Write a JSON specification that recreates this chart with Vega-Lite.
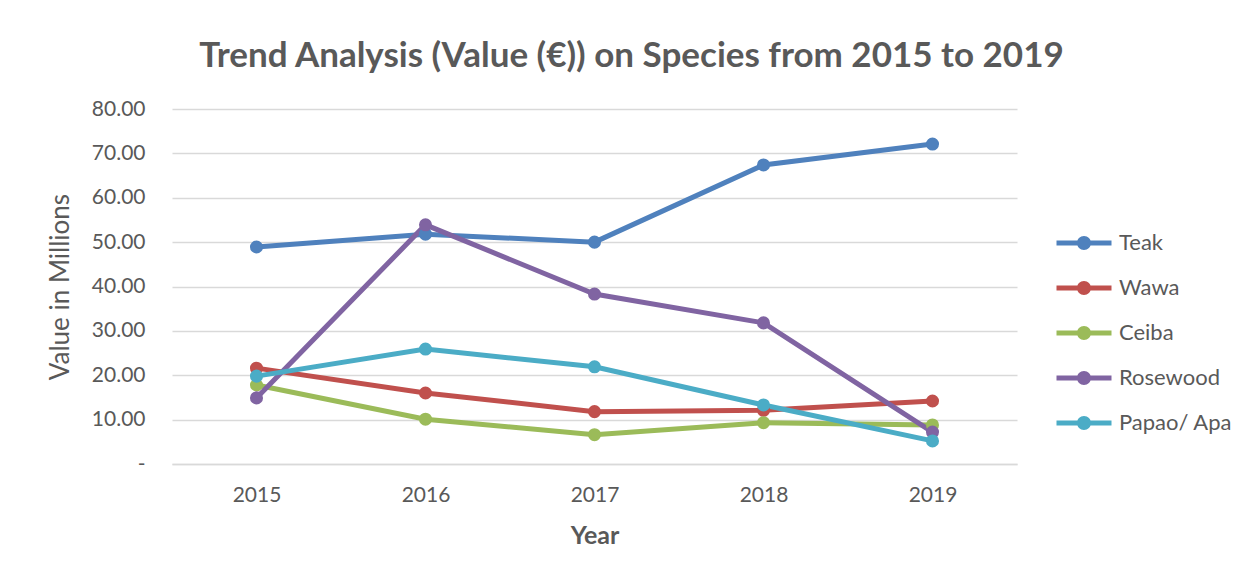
{
  "$schema": "https://vega.github.io/schema/vega-lite/v6.json",
  "width": 845,
  "height": 355,
  "autosize": "none",
  "padding": {"left": 172, "top": 109, "right": 238, "bottom": 116},
  "background": "white",
  "title": {
    "text": "Trend Analysis (Value (€)) on Species from 2015 to 2019",
    "font": "Lato",
    "fontSize": 35,
    "fontWeight": "bold",
    "color": "#595959",
    "anchor": "middle",
    "dx": 37,
    "offset": 24
  },
  "data": {
    "values": [
      {"Year": "2015", "Species": "Teak", "Value": 48.9},
      {"Year": "2016", "Species": "Teak", "Value": 51.8},
      {"Year": "2017", "Species": "Teak", "Value": 50.0},
      {"Year": "2018", "Species": "Teak", "Value": 67.4},
      {"Year": "2019", "Species": "Teak", "Value": 72.1},
      {"Year": "2015", "Species": "Wawa", "Value": 21.6},
      {"Year": "2016", "Species": "Wawa", "Value": 16.0},
      {"Year": "2017", "Species": "Wawa", "Value": 11.8},
      {"Year": "2018", "Species": "Wawa", "Value": 12.1},
      {"Year": "2019", "Species": "Wawa", "Value": 14.2},
      {"Year": "2015", "Species": "Ceiba", "Value": 17.8},
      {"Year": "2016", "Species": "Ceiba", "Value": 10.1},
      {"Year": "2017", "Species": "Ceiba", "Value": 6.6},
      {"Year": "2018", "Species": "Ceiba", "Value": 9.3},
      {"Year": "2019", "Species": "Ceiba", "Value": 8.8},
      {"Year": "2015", "Species": "Rosewood", "Value": 14.9},
      {"Year": "2016", "Species": "Rosewood", "Value": 53.9},
      {"Year": "2017", "Species": "Rosewood", "Value": 38.3},
      {"Year": "2018", "Species": "Rosewood", "Value": 31.8},
      {"Year": "2019", "Species": "Rosewood", "Value": 7.2},
      {"Year": "2015", "Species": "Papao/ Apa", "Value": 19.8},
      {"Year": "2016", "Species": "Papao/ Apa", "Value": 25.9},
      {"Year": "2017", "Species": "Papao/ Apa", "Value": 21.9},
      {"Year": "2018", "Species": "Papao/ Apa", "Value": 13.3},
      {"Year": "2019", "Species": "Papao/ Apa", "Value": 5.2}
    ]
  },
  "encoding": {
    "x": {
      "field": "Year",
      "type": "ordinal",
      "scale": {"type": "point", "padding": 0.5},
      "axis": {
        "title": "Year",
        "labelAngle": 0,
        "labelFont": "Lato",
        "labelFontSize": 21,
        "labelColor": "#595959",
        "labelPadding": 20,
        "ticks": false,
        "domainColor": "#d9d9d9",
        "domainWidth": 1.5,
        "titleFont": "Lato",
        "titleFontSize": 25,
        "titleFontWeight": "bold",
        "titleColor": "#595959",
        "titlePadding": 18
      }
    },
    "y": {
      "field": "Value",
      "type": "quantitative",
      "scale": {"domain": [0, 80], "nice": false},
      "axis": {
        "title": "Value in Millions",
        "values": [0, 10, 20, 30, 40, 50, 60, 70, 80],
        "labelExpr": "datum.value == 0 ? '-\u00a0\u00a0\u00a0' : format(datum.value, '.2f')",
        "labelFont": "Lato",
        "labelFontSize": 21,
        "labelColor": "#595959",
        "labelPadding": 27,
        "ticks": false,
        "domain": false,
        "grid": true,
        "gridColor": "#d9d9d9",
        "gridWidth": 1.5,
        "titleFont": "Lato",
        "titleFontSize": 26,
        "titleFontWeight": "normal",
        "titleColor": "#595959",
        "titlePadding": 18
      }
    },
    "color": {
      "field": "Species",
      "type": "nominal",
      "sort": ["Teak", "Wawa", "Ceiba", "Rosewood", "Papao/ Apa"],
      "scale": {
        "domain": ["Teak", "Wawa", "Ceiba", "Rosewood", "Papao/ Apa"],
        "range": ["#4f81bd", "#c0504d", "#9bbb59", "#8064a2", "#4bacc6"]
      },
      "legend": {
        "title": null,
        "orient": "none",
        "legendX": 901,
        "legendY": 123,
        "symbolType": "M-2.75,-0.25L2.75,-0.25L2.75,0.25L-2.75,0.25Z M0.7,0A0.7,0.7 0 1,1 -0.7,0A0.7,0.7 0 1,1 0.7,0Z",
        "symbolSize": 400,
        "symbolStrokeWidth": 0,
        "labelOffset": 24,
        "labelFont": "Lato",
        "labelFontSize": 22,
        "labelColor": "#595959",
        "rowPadding": 23,
        "encode": {
          "symbols": {
            "update": {
              "fill": {"scale": "color", "field": "value"},
              "fillOpacity": {"value": 1},
              "strokeWidth": {"value": 0}
            }
          }
        }
      }
    }
  },
  "layer": [
    {"mark": {"type": "line", "strokeWidth": 5}},
    {"mark": {"type": "point", "filled": true, "opacity": 1, "size": 170}}
  ],
  "config": {"view": {"stroke": null}}
}
